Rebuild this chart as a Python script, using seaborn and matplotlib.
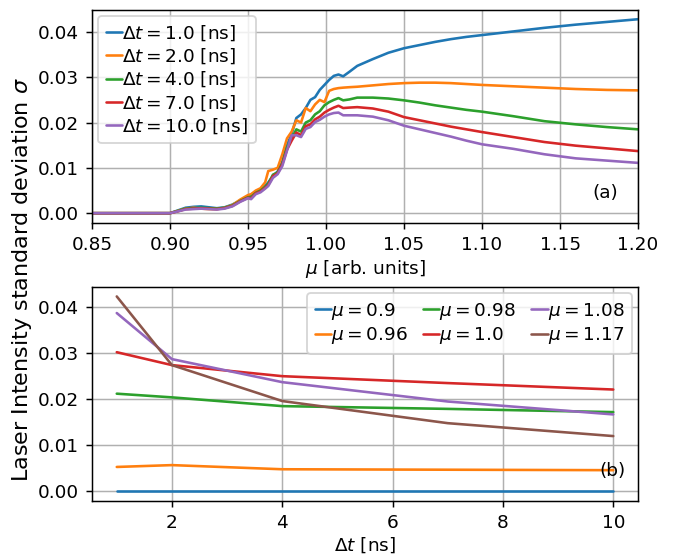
import numpy as np
import pandas as pd
import matplotlib
matplotlib.use("Agg")
import matplotlib.pyplot as plt
import seaborn as sns

# %% Data — panel (a): sigma vs mu for several dt
mu = [0.85, 0.90, 0.905, 0.91, 0.915, 0.92, 0.925, 0.93, 0.935, 0.94, 0.945, 0.95,
      0.952, 0.955, 0.958, 0.961, 0.963, 0.966, 0.969, 0.972, 0.975, 0.978, 0.981,
      0.984, 0.987, 0.990, 0.993, 0.996, 0.999, 1.002, 1.005, 1.008, 1.011, 1.015,
      1.02, 1.03, 1.04, 1.05, 1.06, 1.07, 1.08, 1.09, 1.10, 1.12, 1.14, 1.16, 1.18, 1.20]

sig_dt1 = [0, 0, 0.0006, 0.0012, 0.0014, 0.0015, 0.0013, 0.0011, 0.0013, 0.0019, 0.0028, 0.0037,
           0.0040, 0.0048, 0.0052, 0.0060, 0.0068, 0.0082, 0.0092, 0.0113, 0.0150, 0.0175, 0.0210,
           0.0218, 0.0232, 0.0250, 0.0256, 0.0272, 0.0283, 0.0294, 0.0303, 0.0306, 0.0302, 0.0312,
           0.0325, 0.0340, 0.0354, 0.0364, 0.0371, 0.0378, 0.0384, 0.0389, 0.0393, 0.0401, 0.0409,
           0.0416, 0.0422, 0.0428]
sig_dt2 = [0, 0, 0.0005, 0.0010, 0.0012, 0.0010, 0.0009, 0.0009, 0.0012, 0.0018, 0.0030, 0.0040,
           0.0042, 0.0050, 0.0055, 0.0068, 0.0093, 0.0096, 0.0100, 0.0130, 0.0165, 0.0180, 0.0205,
           0.0200, 0.0232, 0.0225, 0.0240, 0.0250, 0.0245, 0.0270, 0.0274, 0.0276, 0.0277, 0.0278,
           0.0279, 0.0282, 0.0285, 0.0287, 0.0288, 0.0288, 0.0287, 0.0285, 0.0283, 0.0280, 0.0277,
           0.0274, 0.0272, 0.0271]
sig_dt4 = [0, 0, 0.0005, 0.0010, 0.0011, 0.0012, 0.0011, 0.0010, 0.0012, 0.0017, 0.0027, 0.0035,
           0.0036, 0.0045, 0.0050, 0.0058, 0.0065, 0.0085, 0.0090, 0.0110, 0.0145, 0.0165, 0.0185,
           0.0180, 0.0200, 0.0205, 0.0218, 0.0225, 0.0238, 0.0245, 0.0250, 0.0254, 0.0249, 0.0251,
           0.0255, 0.0255, 0.0253, 0.0249, 0.0244, 0.0238, 0.0233, 0.0228, 0.0224, 0.0214, 0.0203,
           0.0196, 0.0190, 0.0185]
sig_dt7 = [0, 0, 0.0004, 0.0009, 0.0010, 0.0011, 0.0010, 0.0009, 0.0011, 0.0016, 0.0026, 0.0034,
           0.0033, 0.0044, 0.0048, 0.0056, 0.0062, 0.0082, 0.0088, 0.0108, 0.0140, 0.0160, 0.0178,
           0.0172, 0.0192, 0.0196, 0.0207, 0.0213, 0.0222, 0.0228, 0.0233, 0.0237, 0.0232, 0.0233,
           0.0234, 0.0231, 0.0224, 0.0212, 0.0205, 0.0198, 0.0191, 0.0185, 0.0179, 0.0168, 0.0157,
           0.0149, 0.0143, 0.0137]
sig_dt10 = [0, 0, 0.0004, 0.0008, 0.0009, 0.0010, 0.0009, 0.0008, 0.0010, 0.0015, 0.0025, 0.0033,
            0.0031, 0.0042, 0.0046, 0.0054, 0.0060, 0.0078, 0.0086, 0.0104, 0.0138, 0.0172, 0.0172,
            0.0168, 0.0186, 0.0190, 0.0201, 0.0206, 0.0213, 0.0218, 0.0221, 0.0222, 0.0216, 0.0216,
            0.0216, 0.0213, 0.0205, 0.0193, 0.0185, 0.0177, 0.0169, 0.0160, 0.0152, 0.0142, 0.0130,
            0.0121, 0.0116, 0.0111]

dt_values = [1.0, 2.0, 4.0, 7.0, 10.0]
sig_by_dt = [sig_dt1, sig_dt2, sig_dt4, sig_dt7, sig_dt10]

# %% Data — panel (b): sigma vs dt for several mu
dt = [1, 2, 4, 7, 10]
mu_values = ["0.9", "0.96", "0.98", "1.0", "1.08", "1.17"]
sig_mu090 = [0, 0, 0, 0, 0]
sig_mu096 = [0.0052, 0.0056, 0.0047, 0.0046, 0.0045]
sig_mu098 = [0.0211, 0.0203, 0.0184, 0.0178, 0.0171]
sig_mu100 = [0.0301, 0.0273, 0.0249, 0.0234, 0.0220]
sig_mu108 = [0.0386, 0.0286, 0.0236, 0.0194, 0.0166]
sig_mu117 = [0.0422, 0.0273, 0.0195, 0.0147, 0.0119]
sig_by_mu = [sig_mu090, sig_mu096, sig_mu098, sig_mu100, sig_mu108, sig_mu117]

# %% Style
sns.set_style("ticks", {"axes.edgecolor": "black", "xtick.color": "black",
                        "ytick.color": "black", "text.color": "black",
                        "axes.labelcolor": "black"})
plt.rcParams["font.family"] = ["DejaVu Sans"]
plt.rcParams["font.size"] = 10
palette = sns.color_palette("tab10")

DPI = 133.33
fig = plt.figure(figsize=(681 / DPI, 560 / DPI), dpi=DPI)
ax1 = fig.add_axes([0.135, 0.602, 0.802, 0.381])
ax2 = fig.add_axes([0.135, 0.106, 0.802, 0.382])

# %% Panel (a)
for i, (d, s) in enumerate(zip(dt_values, sig_by_dt)):
    sns.lineplot(x=mu, y=s, ax=ax1, color=palette[i], linewidth=1.4,
                 label=rf"$\Delta t = {d}$ [ns]")
ax1.set_xlim(0.85, 1.20)
ax1.set_xticks(np.arange(0.85, 1.201, 0.05))
ax1.xaxis.set_major_formatter(matplotlib.ticker.FormatStrFormatter("%.2f"))
ax1.set_yticks([0, 0.01, 0.02, 0.03, 0.04])
ax1.set_xlabel(r"$\mu$ [arb. units]", fontsize=10, labelpad=2)
ax1.grid(True, color="#b0b0b0", linewidth=0.8)
ax1.tick_params(labelsize=10)
ax1.legend(loc="upper left", fontsize=10, handlelength=0.9, handletextpad=0.0,
           labelspacing=0.2, borderaxespad=0.35, framealpha=0.8)
ax1.text(0.94, 0.14, "(a)", transform=ax1.transAxes, ha="center", va="center", fontsize=10)

# %% Panel (b)
for i, (m, s) in enumerate(zip(mu_values, sig_by_mu)):
    sns.lineplot(x=dt, y=s, ax=ax2, color=palette[i], linewidth=1.4,
                 label=rf"$\mu = {m}$")
ax2.set_yticks([0, 0.01, 0.02, 0.03, 0.04])
ax2.set_xticks([2, 4, 6, 8, 10])
ax2.set_xlabel(r"$\Delta t$ [ns]", fontsize=10, labelpad=2)
ax2.grid(True, color="#b0b0b0", linewidth=0.8)
ax2.tick_params(labelsize=10)
ax2.legend(loc="upper right", ncol=3, fontsize=10, handlelength=0.9, handletextpad=0.0,
           labelspacing=0.2, columnspacing=0.8, borderaxespad=0.35, framealpha=0.8)
ax2.text(0.953, 0.14, "(b)", transform=ax2.transAxes, ha="center", va="center", fontsize=10)

fig.text(0.032, 0.5, r"Laser Intensity standard deviation $\sigma$", rotation=90,
         ha="center", va="center", fontsize=12)

fig.savefig("out.png", dpi=DPI)
